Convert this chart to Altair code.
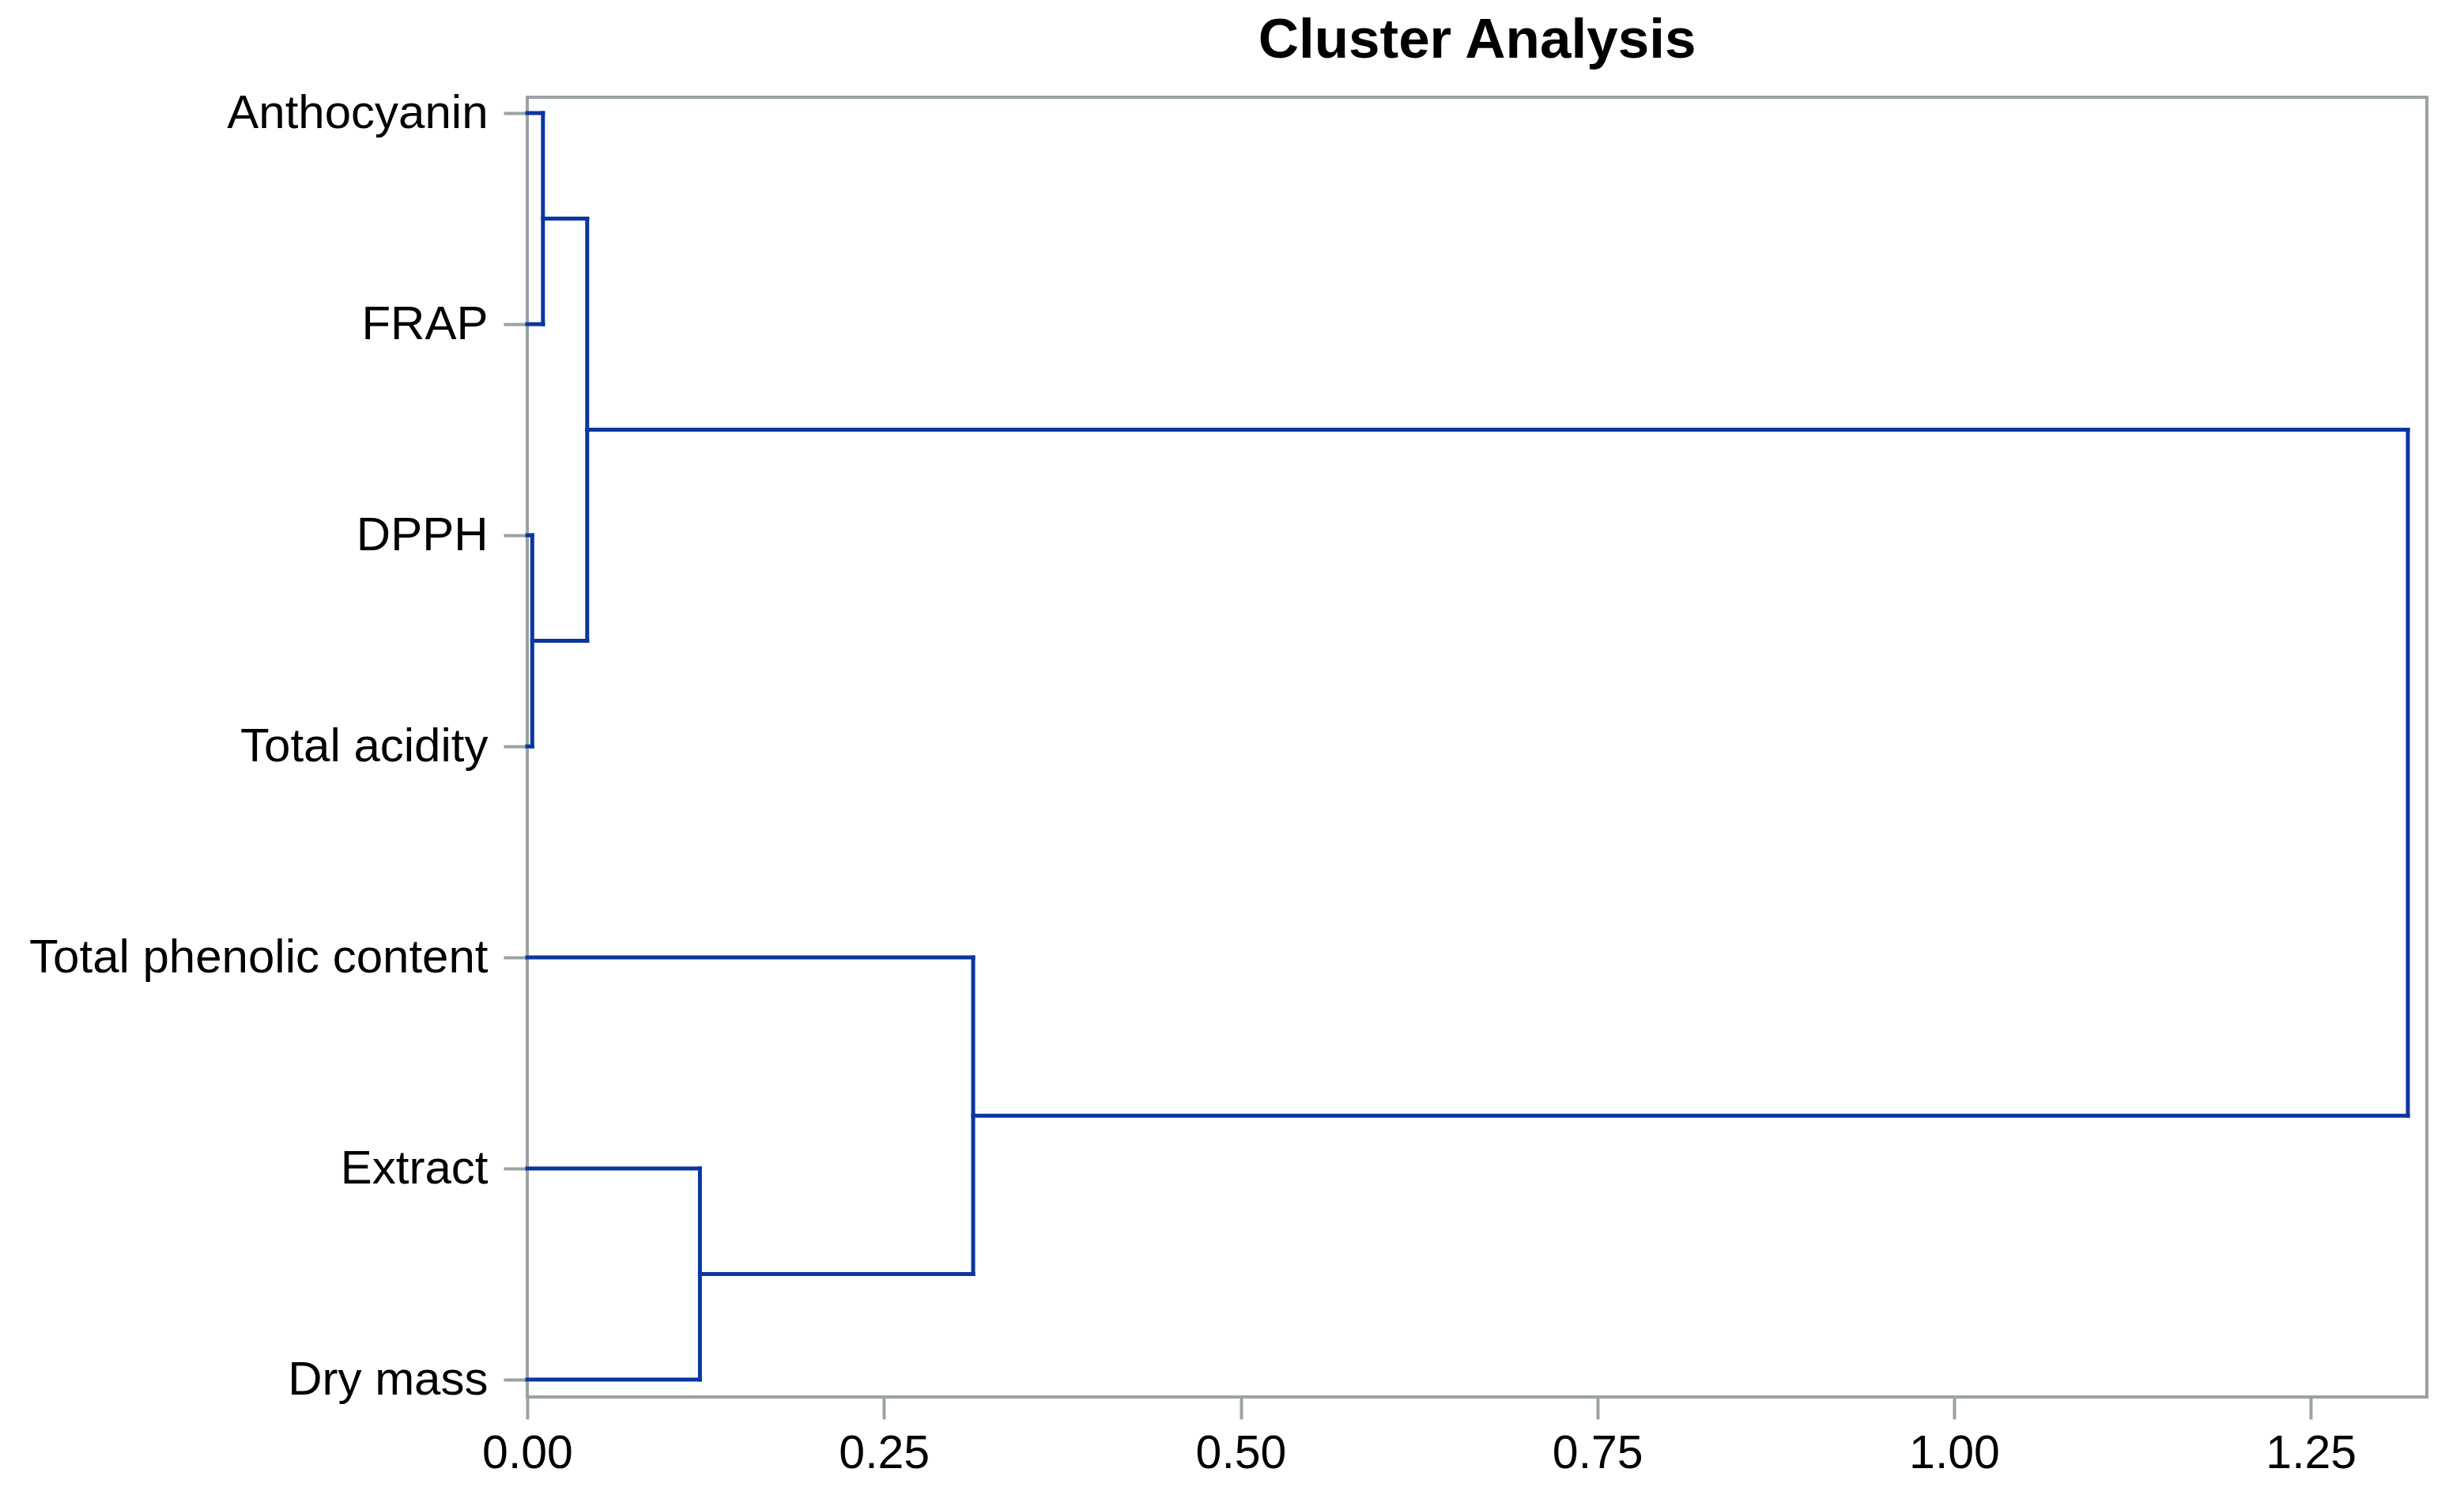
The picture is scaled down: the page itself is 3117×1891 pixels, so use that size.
import altair as alt
import pandas as pd

# Leaves, top to bottom
leaves = ["Anthocyanin", "FRAP", "DPPH", "Total acidity",
          "Total phenolic content", "Extract", "Dry mass"]

# Merge steps: (left child, right child, joining distance)
# children: integers are leaf indices, strings "nK" refer to earlier merges
merge_left = [0, 2, "n0", 5, 4, "n2"]
merge_right = [1, 3, "n1", 6, "n3", "n4"]
merge_height = [0.011, 0.0035, 0.042, 0.121, 0.3125, 1.318]

x_ticks = [0.0, 0.25, 0.5, 0.75, 1.0, 1.25]

# Build the segments of the dendrogram from the arrays above
nodes = {}
segs = []


def pos(c):
    if isinstance(c, str):
        return nodes[c]
    return (0.0, float(c))


for k, (a, b, h) in enumerate(zip(merge_left, merge_right, merge_height)):
    xa, ya = pos(a)
    xb, yb = pos(b)
    segs.append({"x": xa, "x2": h, "y": ya, "y2": ya})
    segs.append({"x": xb, "x2": h, "y": yb, "y2": yb})
    segs.append({"x": h, "x2": h, "y": ya, "y2": yb})
    nodes["n%d" % k] = (h, (ya + yb) / 2.0)

df = pd.DataFrame(segs)

label_expr = "[" + ",".join("'%s'" % s for s in leaves) + "][datum.value]"

GREY = "#9aa2a5"
BLUE = "#0b36a0"

chart = (
    alt.Chart(df)
    .mark_rule(color=BLUE, strokeWidth=5, strokeCap="square")
    .encode(
        x=alt.X(
            "x:Q",
            scale=alt.Scale(domain=[0, 1.3313], nice=False, zero=False),
            axis=alt.Axis(
                values=x_ticks,
                format=".2f",
                title=None,
                grid=False,
                domain=False,
                tickColor=GREY,
                tickWidth=4,
                tickSize=28,
                labelFont="Liberation Sans",
                labelFontSize=59,
                labelColor="#000000",
                labelPadding=14,
                labelFlush=False,
                labelOverlap=False,
            ),
        ),
        x2="x2:Q",
        y=alt.Y(
            "y:Q",
            scale=alt.Scale(domain=[-0.075, 6.082], nice=False, zero=False, reverse=True),
            axis=alt.Axis(
                values=list(range(len(leaves))),
                labelExpr=label_expr,
                title=None,
                grid=False,
                domain=False,
                tickColor=GREY,
                tickWidth=4,
                tickSize=30,
                labelFont="Liberation Sans",
                labelFontSize=60,
                labelColor="#000000",
                labelPadding=20,
                labelBaseline="middle",
                labelLimit=0,
                labelFlush=False,
                labelOverlap=False,
            ),
        ),
        y2="y2:Q",
    )
    .properties(
        width=2403,
        height=1644,
        title=alt.TitleParams(
            "Cluster Analysis",
            font="Liberation Sans",
            fontSize=71,
            fontWeight="bold",
            color="#000000",
            anchor="middle",
            offset=25,
        ),
        autosize=alt.AutoSizeParams(type="none"),
        padding={"left": 659, "top": 115, "right": 30, "bottom": 110},
    )
    .configure(
        background="#ffffff",
        view=alt.ViewConfig(stroke=GREY, strokeWidth=4),
    )
)

chart.save("out.html", embed_options={"renderer": "svg", "actions": False})
